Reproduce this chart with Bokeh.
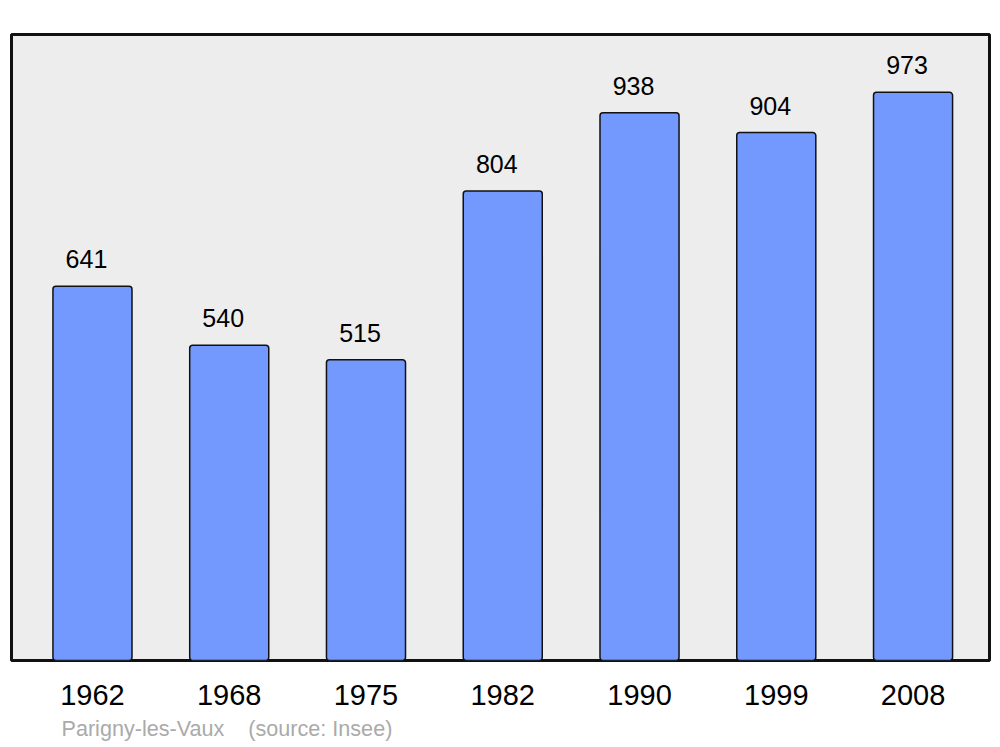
from bokeh.plotting import figure
from bokeh.models import ColumnDataSource, FixedTicker, Range1d, Title
from bokeh.core.properties import value
from bokeh.embed import file_html
from bokeh.resources import INLINE

years = ["1962", "1968", "1975", "1982", "1990", "1999", "2008"]
population = [641, 540, 515, 804, 938, 904, 973]
title_text = "Parigny-les-Vaux\u00a0\u00a0\u00a0\u00a0(source: Insee)"

xs = list(range(len(years)))
src = ColumnDataSource(dict(x=xs, top=population, lab=[str(v) for v in population]))

p = figure(width=1000, height=747, output_backend="svg", toolbar_location=None,
           x_range=Range1d(-0.592, 6.559), y_range=Range1d(0, 1072),
           min_border_left=11, min_border_right=11, min_border_top=34, min_border_bottom=87)
p.background_fill_color = "#ededed"
p.border_fill_color = "white"
p.outline_line_color = "#111111"
p.outline_line_width = 3
p.grid.visible = False
p.yaxis.visible = False

p.vbar(x="x", top="top", bottom=0, width=0.578, source=src,
       fill_color="#7399ff", line_color="#111111", line_width=1.5, border_radius=3)
p.text(x="x", y="top", text="lab", source=src, text_align="center", text_baseline="bottom",
       x_offset=-6, y_offset=-18, text_font=value("Liberation Sans"), text_font_size="25px",
       text_color="black")

ax = p.xaxis[0]
ax.ticker = FixedTicker(ticks=xs)
ax.major_label_overrides = {i: y for i, y in enumerate(years)}
ax.axis_line_color = None
ax.major_tick_line_color = None
ax.minor_tick_line_color = None
ax.major_label_text_font = "Liberation Sans"
ax.major_label_text_font_size = "29px"
ax.major_label_text_color = "black"
ax.major_label_standoff = 18

t = Title(text=title_text, align="left", offset=50, standoff=12,
          text_font="Liberation Sans", text_font_size="21.6px", text_font_style="normal",
          text_color="#aaaaaa")
p.add_layout(t, "below")

open("out.html", "w").write(file_html(p, INLINE))
